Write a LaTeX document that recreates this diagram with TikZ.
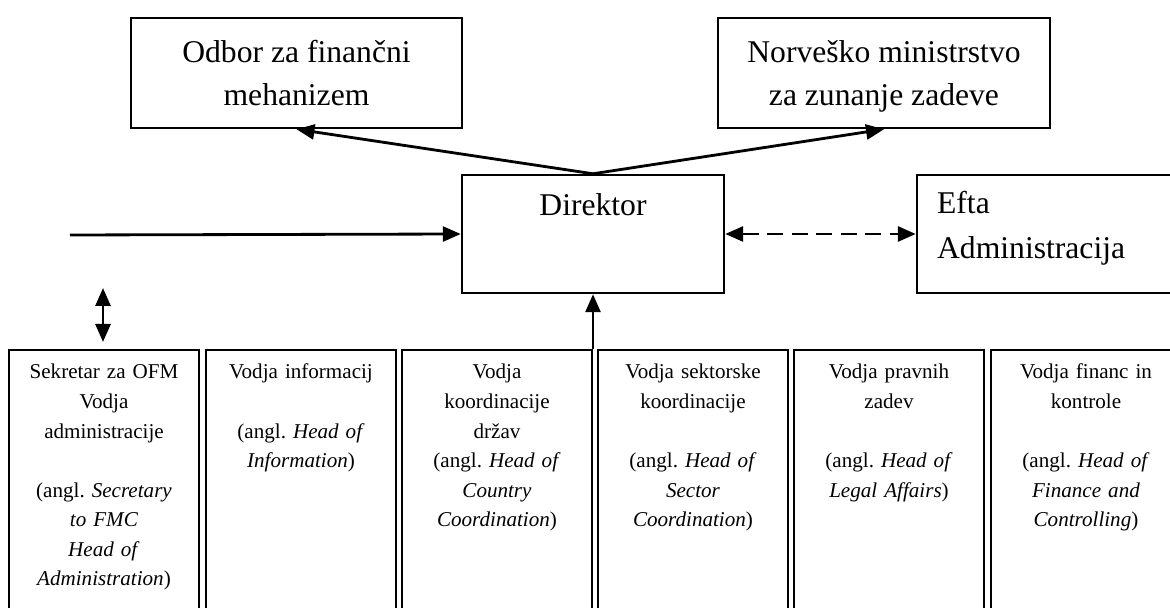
\documentclass[tikz,border=0pt]{standalone}
\usepackage{fontspec}
\setmainfont{Liberation Serif}
\usetikzlibrary{arrows.meta}
\frenchspacing

\tikzset{
    box/.style={draw, line width=1.4pt, inner sep=0pt},
    toptext/.style={font=\fontsize{18}{24.4}\selectfont},
    subtext/.style={font=\fontsize{12}{16.8}\selectfont, text width=3.8cm, align=center, inner sep=0pt, anchor=base},
    conn/.style={line width=1.6pt, -{Triangle[length=0.36cm, width=0.3cm]}},
    connboth/.style={line width=1.6pt, {Triangle[length=0.36cm, width=0.3cm]}-{Triangle[length=0.36cm, width=0.3cm]}}
}

\begin{document}
\begin{tikzpicture}
    \clip (0,0) rectangle (23.4,-12.16);

    % Draw nodes
    \node[box, toptext, align=center, minimum width=6.62cm, minimum height=2.2cm] (odbor) at (5.93,-1.46) {Odbor za finančni\\mehanizem};
    \node[box, toptext, align=center, text depth=0pt, minimum width=6.64cm, minimum height=2.2cm] (nor) at (17.68,-1.46) {Norveško ministrstvo\\za zunanje zadeve};
    \node[box, minimum width=5.24cm, minimum height=2.36cm] (dir) at (11.86,-4.68) {};
    \node[box, minimum width=5.5cm, minimum height=2.36cm] (efta) at (21.09,-4.68) {};
    \node[toptext, anchor=base] (dirtext) at ([yshift=-0.84cm]dir.north) {Direktor};
    \node[font=\fontsize{18}{25.5}\selectfont, text width=4.5cm, align=left, inner sep=0pt, anchor=base west] (eftatext) at ([xshift=0.42cm, yshift=-0.8cm]efta.north west) {Efta\\Administracija};

    % Bottom boxes
    \node[box, minimum width=3.8cm, minimum height=6cm, anchor=north] (b1) at (2.08,-6.98) {};
    \node[box, minimum width=3.8cm, minimum height=6cm, anchor=north] (b2) at (6.02,-6.98) {};
    \node[box, minimum width=3.8cm, minimum height=6cm, anchor=north] (b3) at (9.94,-6.98) {};
    \node[box, minimum width=3.8cm, minimum height=6cm, anchor=north] (b4) at (13.86,-6.98) {};
    \node[box, minimum width=3.8cm, minimum height=6cm, anchor=north] (b5) at (17.78,-6.98) {};
    \node[box, minimum width=3.8cm, minimum height=6cm, anchor=north] (b6) at (21.72,-6.98) {};

    \node[subtext] (t1) at ([yshift=-0.6cm]b1.north) {Sekretar za OFM\\Vodja\\administracije\\[16.8pt](angl. \textit{Secretary}\\\textit{to FMC}\\\textit{Head of}\\\textit{Administration})};
    \node[subtext] (t2) at ([yshift=-0.6cm]b2.north) {Vodja informacij\\[16.8pt](angl. \textit{Head of}\\\textit{Information})};
    \node[subtext] (t3) at ([yshift=-0.6cm]b3.north) {Vodja\\koordinacije\\držav\\(angl. \textit{Head of}\\\textit{Country}\\\textit{Coordination})};
    \node[subtext] (t4) at ([yshift=-0.6cm]b4.north) {Vodja sektorske\\koordinacije\\[16.8pt](angl. \textit{Head of}\\\textit{Sector}\\\textit{Coordination})};
    \node[subtext] (t5) at ([yshift=-0.6cm]b5.north) {Vodja pravnih\\zadev\\[16.8pt](angl. \textit{Head of}\\\textit{Legal Affairs})};
    \node[subtext] (t6) at ([yshift=-0.6cm]b6.north) {Vodja financ in\\kontrole\\[16.8pt](angl. \textit{Head of}\\\textit{Finance and}\\\textit{Controlling})};

    % Draw connections
    \coordinate (in) at (1.4,-4.7);
    \coordinate (up) at (dir.south |- b3.north);
    \coordinate (s1) at (2.06,-6.84);
    \coordinate (s2) at (2.06,-5.76);
    \draw[conn] (dir.north) -- (odbor.south);
    \draw[conn] (dir.north) -- (nor.south);
    \draw[conn] (in) -- (dir.west);
    \draw[connboth, dash pattern=on 0.32cm off 0.17cm] (dir.east) -- (efta.west);
    \draw[conn] (up) -- (dir.south);
    \draw[connboth] (s1) -- (s2);
\end{tikzpicture}
\end{document}
